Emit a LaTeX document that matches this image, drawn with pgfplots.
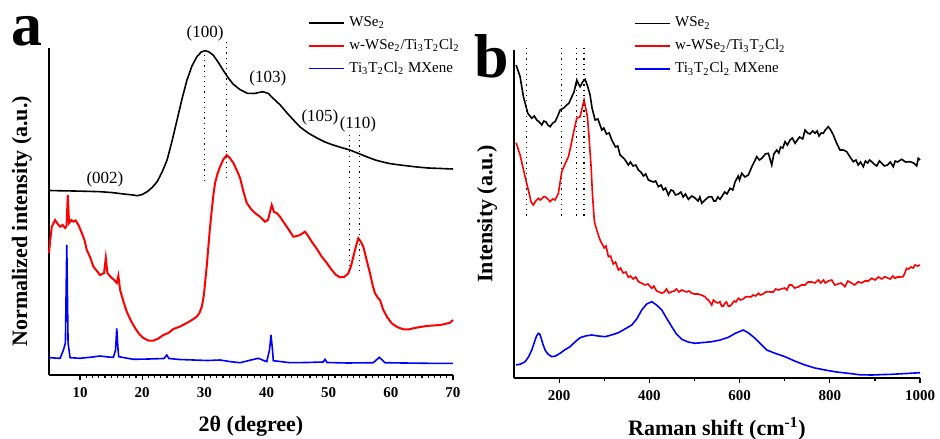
\documentclass[border=0pt]{standalone}
\usepackage{fontspec}
\setmainfont{Liberation Serif}
\usepackage{pgfplots}
\pgfplotsset{compat=1.18}

% y values are read in image rows (top = small), hence y dir=reverse
\pgfplotsset{
  panel/.style={
    scale only axis,
    axis x line*=bottom, axis y line*=left,
    axis line style={line width=1pt},
    y dir=reverse,
    ytick=\empty,
    clip=false,
    tick align=outside,
    major tick length=2.5pt, minor tick length=1.3pt,
    every tick/.style={black, line width=0.6pt},
    /pgf/number format/assume math mode=true,
    /pgf/number format/1000 sep={},
    ticklabel style={font=\fontsize{7.5}{9}\selectfont\bfseries},
    label style={font=\fontsize{11}{13}\selectfont\bfseries},
    legend cell align=left,
    legend style={draw=none, fill=none, inner sep=0pt, anchor=north west,
      font=\fontsize{7.5}{9}\selectfont, row sep=0.8pt},
    legend image code/.code={\draw[#1] (0pt,0pt) -- (17.5pt,0pt);},
  },
  refline/.style={black, dotted, line width=0.6pt, forget plot},
}
\tikzset{
  peak/.style={font=\fontsize{8.5}{10}\selectfont},
  panellabel/.style={anchor=base, inner sep=0pt, font=\fontsize{31}{31}\selectfont\bfseries},
}

\begin{document}
\begin{tikzpicture}
\path[use as bounding box] (0,0) rectangle (470pt,219pt);

% ---------------- (a) XRD ----------------
\begin{axis}[panel,
  at={(24.5pt,31.5pt)}, anchor=south west,
  width=202pt, height=163.5pt,
  xmin=5, xmax=70, ymin=48, ymax=375,
  xtick={10,20,...,70}, minor x tick num=9,
  xlabel={2θ (degree)},
  ylabel={Normalized intensity (a.u.)},
  xlabel style={at={(axis description cs:0.5,-0.156)}, anchor=center},
  ylabel style={at={(axis description cs:-0.067,0.47)}, anchor=center},
  legend style={at={(0.641,1.11)}},
]
\addplot[black, line width=0.8pt] coordinates {
(5.0,190.5) (7,190.8) (9,191) (11,191.3) (13.2,191.7) (15,192.5) (17,194) (18.5,195)
(19.2,195.7) (20,194.5) (20.8,191.7) (21.6,187.5) (22.4,181.7) (23.2,172) (24.0,160)
(24.8,141) (25.6,120) (26.4,99) (27.2,80) (28.0,66) (28.8,56.7) (29.5,52) (30.1,50.7)
(30.7,51.8) (31.4,55) (32.2,62) (33.0,70) (33.8,77.5) (34.6,84) (35.7,89.5) (36.9,93.3)
(38.0,93.5) (39.4,91.7) (40.3,93.5) (41.0,98) (42.2,105) (43.3,113) (44.4,120.5)
(45.4,127) (46.7,133) (48.1,138) (49.4,142) (50.7,145) (52,147.5) (53.4,150) (54.8,153.5)
(56.2,157) (57.5,160) (58.7,162) (60,163.8) (61.5,165) (62.8,166) (64.2,167) (66,168)
(68,168.5) (70,169)};
\addlegendentry{WSe\textsubscript{2}}
\addplot[red, line width=1pt] coordinates {
(5.0,253.3) (5.2,240) (5.45,226.7) (5.98,220) (6.4,224) (6.79,226.7) (7.2,225) (7.59,228)
(7.83,226) (8.02,195) (8.23,223) (8.6,220) (8.92,221.7) (9.3,220.5) (9.73,225) (10.28,233)
(10.7,240) (11.08,250) (11.6,257) (12.14,266.7) (12.7,271) (13.22,275) (13.86,273)
(14.14,258) (14.39,273) (14.8,276) (15.1,278) (15.5,280) (15.9,283) (16.16,275.7)
(16.44,290) (17.0,302) (17.51,311.7) (18.2,321) (18.85,328) (19.5,334) (20.18,338)
(21.0,340.5) (21.79,340.7) (22.6,338.5) (23.4,335) (24.2,333) (25.01,329) (26.1,326.5)
(27.16,323) (28.0,320) (28.77,316.7) (29.2,313) (29.58,306.7) (29.9,296) (30.11,283)
(30.4,265) (30.64,246.7) (30.9,228) (31.19,210) (31.45,195) (31.72,183) (32.1,174)
(32.52,166.7) (33.0,160) (33.6,155) (34.1,158) (34.66,163) (35.2,170) (35.74,178)
(36.3,192) (36.82,203) (37.5,209) (38.15,213) (39.0,217) (39.76,221.7) (40.24,220)
(40.84,205) (41.2,212) (41.64,213) (42.2,217) (42.7,221.7) (43.5,229) (44.31,236.7)
(44.9,236) (45.39,235) (46.19,231.7) (46.7,236) (47.27,241.7) (48.1,249) (48.88,256.7)
(49.7,263) (50.49,270) (51.2,275) (51.82,277.3) (52.5,277) (53.16,273.3) (53.6,266)
(53.96,256.7) (54.4,246) (54.77,238.3) (55.2,242) (55.57,246.7) (56.1,260) (56.65,273.3)
(57.1,286) (57.45,293.3) (57.98,298.3) (58.26,300) (58.79,310) (59.4,317) (60.14,323.3)
(61.0,327) (62.0,329.3) (62.8,329.5) (63.61,328.3) (64.7,327) (65.77,326) (66.8,325.5)
(67.9,325) (68.7,324) (69.52,322.7) (70.0,320)};
\addlegendentry{w-WSe\textsubscript{2}/Ti\textsubscript{3}T\textsubscript{2}Cl\textsubscript{2}}
\addplot[blue, line width=0.8pt] coordinates {
(5.0,357.7) (6.79,358.3) (7.32,350) (7.64,343) (7.86,245) (8.07,343) (8.39,357.7)
(10.0,358.3) (12.0,357) (13.22,356) (14.5,357) (15.36,357.3) (15.71,350) (15.9,328.3)
(16.11,350) (16.23,356.7) (18.58,359.3) (21,359) (23.5,358.5) (23.95,355) (24.3,358.5)
(26,359.5) (28.23,360) (30.5,360.5) (32.52,360) (34,361.5) (35.74,362.7) (37.5,360)
(38.68,358.3) (40.03,361.7) (40.48,350) (40.72,335) (40.96,350) (41.09,360.7)
(43.78,362.7) (46.5,362.5) (49.1,362) (49.41,359.3) (49.73,362.5) (53,363) (57.18,362.7)
(58.15,357.3) (59.06,362.7) (62,363) (66,363.3) (70.0,363.3)};
\addlegendentry{Ti\textsubscript{3}T\textsubscript{2}Cl\textsubscript{2} MXene}
% reference lines
\addplot[refline] coordinates {(30.0,55) (30.0,182)};
\addplot[refline] coordinates {(33.5,42) (33.5,182)};
\addplot[refline] coordinates {(53.3,135) (53.3,275)};
\addplot[refline] coordinates {(55.0,135) (55.0,275)};
\node[peak] at (axis cs:30.1,33) {(100)};
\node[peak] at (axis cs:40.2,78) {(103)};
\node[peak] at (axis cs:48.6,117) {(105)};
\node[peak] at (axis cs:54.7,124) {(110)};
\node[peak] at (axis cs:14.0,179) {(002)};
\node[panellabel] at (axis description cs:-0.054,1.009) {a};
\end{axis}

% ---------------- (b) Raman ----------------
\begin{axis}[panel,
  at={(257pt,30pt)}, anchor=south west,
  width=203pt, height=164pt,
  xmin=100, xmax=1000, ymin=50, ymax=378,
  xtick={200,400,...,1000}, minor x tick num=1,
  xlabel={Raman shift (cm\textsuperscript{-1})},
  ylabel={Intensity (a.u.)},
  xlabel style={at={(axis description cs:0.5,-0.156)}, anchor=center},
  ylabel style={at={(axis description cs:-0.066,0.5)}, anchor=center},
  legend style={at={(0.296,1.114)}},
]
\addplot[black, line width=0.8pt] coordinates {
(104.7,65) (113.5,76.7) (120.8,96.7) (130.6,113.3) (139.4,118.3) (145,116) (150.5,120)
(156,122) (161.6,125) (166,121) (171.1,122) (175,125) (180.0,126.7) (186,123) (191.1,121.7)
(196,117) (202.2,110) (210,108) (217.0,105) (222,103) (228.1,96.7) (233,92) (239.2,80)
(243,84) (246.5,86.7) (252,82) (257.6,79.3) (263,86) (268.6,95) (273,108) (279.7,120)
(286,119) (294.6,130) (299,128) (305,134) (311,133) (316.7,140) (325,147) (330,146)
(335.1,155) (345,159) (353.5,165) (358,162) (364,166) (370,165) (375.7,170) (381,172)
(387,176) (392,174) (397.8,180) (409,182) (414,181) (420.0,186.7) (426,185) (431,190)
(436,188) (442.2,195) (448,190) (453,191) (458,195) (464.3,194) (470,192) (475,197)
(480,194) (486.5,199.3) (494,196) (501.3,198) (508,201) (512,197) (516.2,203.3)
(523.5,200) (531,197) (538.3,196.7) (543,201) (547,201) (552,197) (556.7,199.3)
(567,192) (572,194) (578.9,188.3) (585,190) (590,182) (597,176) (600,180) (604.8,173.3)
(612,177) (619.4,175) (628,166) (638.1,156.7) (644,160) (650,158) (657,154)
(663.8,153.3) (671.3,165) (676,154) (682.4,150) (687,153) (691,147) (696,148)
(700.8,141.7) (706,145) (712,140) (717,138) (723.0,143.3) (728,140) (733,137) (740,139)
(745.1,130) (751,133) (756,134) (762,131) (767.3,133.3) (772,131) (776,136) (781,133)
(785.6,133.3) (790,130) (796.7,126.7) (802,130) (807.8,135) (815,143) (822.6,150)
(830,150) (837.5,151.7) (845,157) (852.1,161.7) (858,160) (863,165) (868,162)
(874.3,166.7) (879,161) (884,163) (888,160) (892.9,161.7) (898,164) (904,166) (910,161)
(915.1,163.3) (921,166) (928,165) (934,162) (940.8,166.7) (945,161) (950,162)
(959.4,159.3) (968,162) (977.8,161.7) (986,163) (992.6,166) (996.2,158.3) (1000,160)};
\addlegendentry{WSe\textsubscript{2}}
\addplot[red, line width=0.8pt] coordinates {
(104.7,142.7) (113.5,155) (119,166) (124.6,176.7) (129,185) (133.5,193.3) (138,202)
(143.0,205) (148,201) (154.1,198.3) (158,200) (161,199) (165,197) (168.9,196.7) (175,199)
(180.0,201.7) (186,199) (191.1,200) (198.4,193.3) (205.9,171.7) (213,164) (220.6,156.7)
(226,146) (231.6,133.3) (239.2,118.3) (246.5,116.7) (255.3,100) (262.7,116.7) (266,135)
(270.9,166.7) (274,195) (278.2,221.7) (284,231) (290.8,240) (300,248) (304,246)
(309.2,256.7) (314,256) (320,264) (325,262) (331.4,270) (336,268) (342,273) (348,272)
(353.5,277.3) (358,276) (364,279) (370,277) (375.7,281.7) (382,283) (390,285) (397,284)
(405.4,288.3) (410,286) (416,291) (422,292) (427.5,293.3) (433,292) (438,289) (443,293)
(449.7,291.7) (455,291) (460,289) (466,292) (471.9,290) (477,291) (483,292) (488,291)
(494.0,293.3) (500,294) (508,294) (515,295) (523.5,296.7) (527,299) (531,300)
(538.3,305) (542,300) (547,302) (552,303) (556.7,301.7) (560,306) (564.1,306)
(568,303) (571,302) (575,306) (578.9,306) (583,304) (588,301) (592,302) (597.3,298.3)
(602,300) (608,299) (613,297) (619.4,296.7) (625,297) (630,295) (636,296) (641.6,293.3)
(646,295) (652,294) (658,292) (663.8,291.7) (669,292) (675,292) (680,289) (685.9,290)
(692,289) (700,288) (705,290) (710,285) (715.6,285) (722,288) (730,287) (737,285)
(745.1,285) (752,282) (760,282) (767,283) (774.6,280) (780,283) (786,280) (790,283)
(797,281) (804.3,280) (811,285) (818,284) (825,283) (833.7,286.7) (840,281) (848,283)
(855,285) (863.2,281.7) (870,283) (878,281) (885,281) (892.9,278.3) (900,280) (908,277)
(915,279) (922.4,276.7) (928,278) (934,279) (940,276) (944.6,278.3) (950,277) (955,277)
(962.9,276.7) (967,272) (970.5,268.3) (975,269) (980,267) (985,268) (988.9,265)
(995,266) (1000,265)};
\addlegendentry{w-WSe\textsubscript{2}/Ti\textsubscript{3}T\textsubscript{2}Cl\textsubscript{2}}
\addplot[blue, line width=0.8pt] coordinates {
(104.7,365) (115,364) (124.6,361.7) (132,357) (139.4,350) (146.8,340) (150,336)
(154.1,333.3) (157,334) (160.1,338) (164,344) (168.9,350) (175,354) (183.8,356.7)
(192,356) (202.2,353.3) (212,350) (224.3,346.7) (235,342) (246.5,337.7) (258,336)
(272.4,335) (287,336) (301.9,336.7) (316,335) (331.4,332.7) (346,329) (361.1,325)
(372,319) (383.2,310) (394,304) (405.4,301.7) (416,305) (427.5,310) (438,318)
(449.7,326.7) (460,334) (471.9,339.3) (486,342) (501.3,343.3) (520,342.5) (538.3,341.7)
(557,340) (575.1,337.3) (592,333) (608.4,330) (620,333) (634.3,338.3) (647,344)
(660.2,350) (680,353.5) (700.8,356.7) (722,361) (745.1,365) (767,368) (789.4,370)
(815,372) (841.1,373.3) (867,374.8) (892.9,375) (915,374.6) (937.2,374.3) (970,373.5)
(1000,372.7)};
\addlegendentry{Ti\textsubscript{3}T\textsubscript{2}Cl\textsubscript{2} MXene}
\addplot[refline] coordinates {(128.4,48) (128.4,217)};
\addplot[refline] coordinates {(204.4,48) (204.4,217)};
\addplot[refline] coordinates {(239.2,48) (239.2,217)};
\addplot[refline] coordinates {(255.3,48) (255.3,217)};
\node[panellabel] at (axis description cs:-0.054,0.915) {b};
\end{axis}
\end{tikzpicture}
\end{document}
